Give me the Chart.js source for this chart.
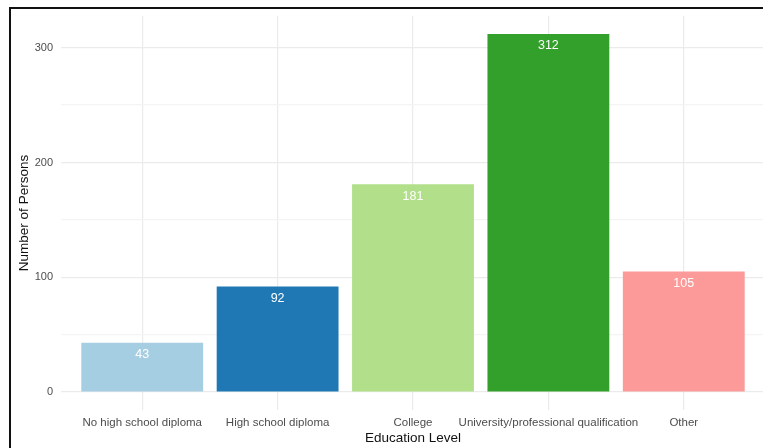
<!DOCTYPE html>
<html>
<head>
<meta charset="utf-8">
<script src="https://cdn.jsdelivr.net/npm/chart.js@4"></script>
<style>
  html, body { margin: 0; padding: 0; background: #fff; overflow: hidden; }
  #box { position: absolute; left: 9px; top: 7px; border-top: 2px solid #111; border-left: 2px solid #111; }
  #chart { display: block; }
</style>
</head>
<body>
<div id="box"><canvas id="chart" width="780" height="441"></canvas></div>
<script>
// categories and counts
const niveles = ['No high school diploma', 'High school diploma', 'College', 'University/professional qualification', 'Other'];
const personas = [43, 92, 181, 312, 105];
const colores = ['#A6CEE3', '#1F78B4', '#B2DF8A', '#33A02C', '#FB9A99'];
const yTicks = [0, 50, 100, 150, 200, 250, 300];

const fuente = "'Liberation Sans', Arial, sans-serif";

// etiquetas blancas dentro de las barras
const etiquetas = {
  id: 'etiquetas',
  afterDatasetsDraw(chart) {
    const ctx = chart.ctx;
    const meta = chart.getDatasetMeta(0);
    ctx.save();
    ctx.fillStyle = '#ffffff';
    ctx.font = '12.5px ' + fuente;
    ctx.textAlign = 'center';
    ctx.textBaseline = 'middle';
    meta.data.forEach((bar, i) => {
      ctx.fillText(String(personas[i]), bar.x, bar.y + 12);
    });
    ctx.restore();
  }
};

const canvas = document.getElementById('chart');
new Chart(canvas, {
  type: 'bar',
  data: {
    datasets: [{
      data: personas.map((v, i) => ({ x: i + 1, y: v })),
      backgroundColor: colores,
      borderWidth: 0,
      barPercentage: 0.9,
      categoryPercentage: 1
    }]
  },
  options: {
    responsive: false,
    animation: false,
    layout: { padding: { top: 7, right: 26, left: 0, bottom: 0 } },
    plugins: { legend: { display: false }, tooltip: { enabled: false } },
    scales: {
      x: {
        type: 'linear',
        min: 0.4,
        max: 5.6,
        offset: false,
        afterBuildTicks: s => { s.ticks = niveles.map((n, i) => ({ value: i + 1 })); },
        afterFit: s => { s.height = 40; s.paddingLeft = 0; s.paddingRight = 0; },
        grid: { color: '#ebebeb', lineWidth: 1.2, drawTicks: false, offset: false },
        border: { display: false },
        ticks: {
          padding: 6,
          color: '#4d4d4d',
          font: { family: fuente, size: 11.5 },
          maxRotation: 0,
          autoSkip: false,
          callback: v => niveles[v - 1]
        },
        title: { display: true, text: 'Education Level', color: '#111', font: { family: fuente, size: 13.5 }, padding: { top: 4 } }
      },
      y: {
        min: -15.6,
        max: 327.6,
        afterBuildTicks: s => { s.ticks = yTicks.map(v => ({ value: v })); },
        afterFit: s => { s.width = 50; s.paddingTop = 0; s.paddingBottom = 0; },
        grid: {
          drawTicks: false,
          color: c => (c.tick && c.tick.value % 100 === 0) ? '#ebebeb' : '#f4f4f4',
          lineWidth: 1.2
        },
        border: { display: false },
        ticks: {
          padding: 8,
          color: '#4d4d4d',
          font: { family: fuente, size: 11 },
          callback: v => (v % 100 === 0 ? String(v) : '')
        },
        title: { display: true, text: 'Number of Persons', color: '#111', font: { family: fuente, size: 13.5 }, padding: { top: 5 } }
      }
    }
  },
  plugins: [etiquetas]
});
</script>
</body>
</html>
